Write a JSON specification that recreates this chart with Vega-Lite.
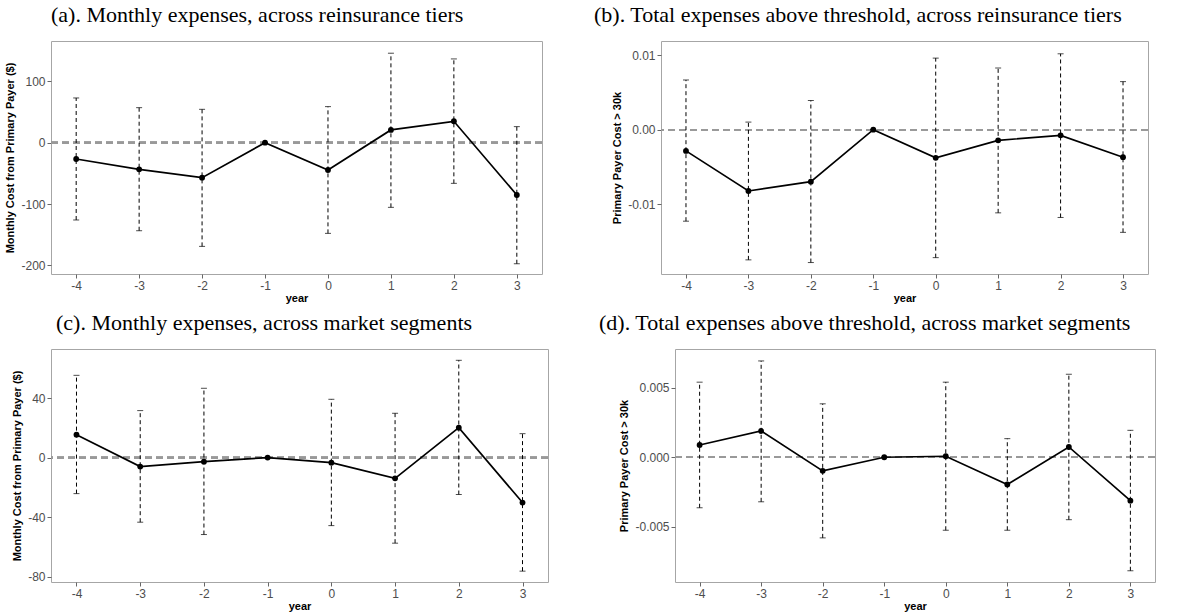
{
  "$schema": "https://vega.github.io/schema/vega-lite/v6.json",
  "background": "white",
  "padding": {"left": 4, "top": 3, "right": 0, "bottom": 0},
  "datasets": {
    "a": [
      {"year": -4, "est": -26.6, "lo": -126, "hi": 72.8},
      {"year": -3, "est": -43.5, "lo": -143.5, "hi": 57},
      {"year": -2, "est": -57, "lo": -169, "hi": 54.3},
      {"year": -1, "est": 0, "lo": 0, "hi": 0},
      {"year": 0, "est": -44.6, "lo": -147.8, "hi": 58.7},
      {"year": 1, "est": 20.7, "lo": -105.4, "hi": 145.7},
      {"year": 2, "est": 34.8, "lo": -66.3, "hi": 136.4},
      {"year": 3, "est": -85.3, "lo": -197.3, "hi": 26.1}
    ],
    "b": [
      {"year": -4, "est": -0.00285, "lo": -0.0123, "hi": 0.00668},
      {"year": -3, "est": -0.00824, "lo": -0.0175, "hi": 0.00102},
      {"year": -2, "est": -0.00699, "lo": -0.01786, "hi": 0.00392},
      {"year": -1, "est": 0, "lo": 0, "hi": 0},
      {"year": 0, "est": -0.00379, "lo": -0.0172, "hi": 0.00962},
      {"year": 1, "est": -0.00143, "lo": -0.01118, "hi": 0.00829},
      {"year": 2, "est": -0.00076, "lo": -0.0118, "hi": 0.0102},
      {"year": 3, "est": -0.0037, "lo": -0.0138, "hi": 0.00646}
    ],
    "c": [
      {"year": -4, "est": 15.4, "lo": -24.2, "hi": 55.3},
      {"year": -3, "est": -6.0, "lo": -43.4, "hi": 31.6},
      {"year": -2, "est": -2.7, "lo": -51.7, "hi": 46.6},
      {"year": -1, "est": 0, "lo": 0, "hi": 0},
      {"year": 0, "est": -3.4, "lo": -45.7, "hi": 39.2},
      {"year": 1, "est": -13.9, "lo": -57.5, "hi": 29.8},
      {"year": 2, "est": 20.1, "lo": -24.8, "hi": 65.4},
      {"year": 3, "est": -30.2, "lo": -76.3, "hi": 16.1}
    ],
    "d": [
      {"year": -4, "est": 0.000885, "lo": -0.00364, "hi": 0.00541},
      {"year": -3, "est": 0.00189, "lo": -0.00321, "hi": 0.00694},
      {"year": -2, "est": -0.00098, "lo": -0.00581, "hi": 0.00385},
      {"year": -1, "est": 0, "lo": 0, "hi": 0},
      {"year": 0, "est": 0.00007, "lo": -0.00526, "hi": 0.00541},
      {"year": 1, "est": -0.00196, "lo": -0.00526, "hi": 0.00134},
      {"year": 2, "est": 0.00074, "lo": -0.0045, "hi": 0.00598},
      {"year": 3, "est": -0.00313, "lo": -0.00818, "hi": 0.00194}
    ]
  },
  "concat": [
    {
      "hconcat": [
        {
          "width": 491, "height": 233,
          "data": {"name": "a"},
          "title": {"text": "(a). Monthly expenses, across reinsurance tiers", "anchor": "start", "frame": "group", "dx": 0, "offset": 14, "baseline": "top", "font": "Liberation Serif", "fontSize": 22, "fontWeight": "normal", "color": "#000"},
          "layer": [
            {"mark": {"type": "rule", "color": "#999999", "strokeDash": [7, 4], "strokeWidth": 1.6},
             "encoding": {"y": {"datum": 0, "type": "quantitative", "scale": {"domain": [-214, 165.6], "nice": false, "zero": false}, "axis": {"values": [-200, -100, 0, 100], "format": "d", "title": "Monthly Cost from Primary Payer ($)", "labelExpr": "replace(datum.label, '−', '-')"}}}},
            {"mark": {"type": "rule", "color": "#000", "strokeDash": [4, 3], "strokeWidth": 1},
             "encoding": {"x": {"field": "year", "type": "quantitative", "scale": {"domain": [-4.4, 3.4], "nice": false, "zero": false}, "axis": {"values": [-4, -3, -2, -1, 0, 1, 2, 3], "format": "d", "title": "year", "labelExpr": "replace(datum.label, '−', '-')"}},
                          "y": {"field": "lo", "type": "quantitative", "title": "Monthly Cost from Primary Payer ($)"}, "y2": {"field": "hi"}}},
            {"mark": {"type": "tick", "orient": "horizontal", "color": "#000", "size": 6, "thickness": 1},
             "encoding": {"x": {"field": "year", "type": "quantitative", "title": "year"}, "y": {"field": "lo", "type": "quantitative", "title": "Monthly Cost from Primary Payer ($)"}}},
            {"mark": {"type": "tick", "orient": "horizontal", "color": "#000", "size": 6, "thickness": 1},
             "encoding": {"x": {"field": "year", "type": "quantitative", "title": "year"}, "y": {"field": "hi", "type": "quantitative", "title": "Monthly Cost from Primary Payer ($)"}}},
            {"mark": {"type": "line", "color": "#000", "strokeWidth": 1.7},
             "encoding": {"x": {"field": "year", "type": "quantitative", "title": "year"}, "y": {"field": "est", "type": "quantitative", "title": "Monthly Cost from Primary Payer ($)"}}},
            {"mark": {"type": "point", "filled": true, "color": "#000", "opacity": 1, "size": 34},
             "encoding": {"x": {"field": "year", "type": "quantitative", "title": "year"}, "y": {"field": "est", "type": "quantitative", "title": "Monthly Cost from Primary Payer ($)"}}}
          ]
        },
        {
          "width": 487, "height": 233,
          "data": {"name": "b"},
          "title": {"text": "(b). Total expenses above threshold, across reinsurance tiers", "anchor": "start", "frame": "group", "dx": -67, "offset": 14, "baseline": "top", "font": "Liberation Serif", "fontSize": 22, "fontWeight": "normal", "color": "#000"},
          "layer": [
            {"mark": {"type": "rule", "color": "#999999", "strokeDash": [7, 4], "strokeWidth": 1.6},
             "encoding": {"y": {"datum": 0, "type": "quantitative", "scale": {"domain": [-0.0194, 0.01192], "nice": false, "zero": false}, "axis": {"values": [-0.01, 0, 0.01], "format": ".2f", "title": "Primary Payer Cost > 30k", "labelExpr": "replace(datum.label, '−', '-')"}}}},
            {"mark": {"type": "rule", "color": "#000", "strokeDash": [4, 3], "strokeWidth": 1},
             "encoding": {"x": {"field": "year", "type": "quantitative", "scale": {"domain": [-4.4, 3.4], "nice": false, "zero": false}, "axis": {"values": [-4, -3, -2, -1, 0, 1, 2, 3], "format": "d", "title": "year", "labelExpr": "replace(datum.label, '−', '-')"}},
                          "y": {"field": "lo", "type": "quantitative", "title": "Primary Payer Cost > 30k"}, "y2": {"field": "hi"}}},
            {"mark": {"type": "tick", "orient": "horizontal", "color": "#000", "size": 6, "thickness": 1},
             "encoding": {"x": {"field": "year", "type": "quantitative", "title": "year"}, "y": {"field": "lo", "type": "quantitative", "title": "Primary Payer Cost > 30k"}}},
            {"mark": {"type": "tick", "orient": "horizontal", "color": "#000", "size": 6, "thickness": 1},
             "encoding": {"x": {"field": "year", "type": "quantitative", "title": "year"}, "y": {"field": "hi", "type": "quantitative", "title": "Primary Payer Cost > 30k"}}},
            {"mark": {"type": "line", "color": "#000", "strokeWidth": 1.7},
             "encoding": {"x": {"field": "year", "type": "quantitative", "title": "year"}, "y": {"field": "est", "type": "quantitative", "title": "Primary Payer Cost > 30k"}}},
            {"mark": {"type": "point", "filled": true, "color": "#000", "opacity": 1, "size": 34},
             "encoding": {"x": {"field": "year", "type": "quantitative", "title": "year"}, "y": {"field": "est", "type": "quantitative", "title": "Primary Payer Cost > 30k"}}}
          ]
        }
      ],
      "spacing": 119,
      "bounds": "flush"
    },
    {
      "hconcat": [
        {
          "width": 497, "height": 233,
          "data": {"name": "c"},
          "title": {"text": "(c). Monthly expenses, across market segments", "anchor": "start", "frame": "group", "dx": 5, "offset": 14, "baseline": "top", "font": "Liberation Serif", "fontSize": 22, "fontWeight": "normal", "color": "#000"},
          "layer": [
            {"mark": {"type": "rule", "color": "#999999", "strokeDash": [7, 4], "strokeWidth": 1.6},
             "encoding": {"y": {"datum": 0, "type": "quantitative", "scale": {"domain": [-83.6, 73], "nice": false, "zero": false}, "axis": {"values": [-80, -40, 0, 40], "format": "d", "title": "Monthly Cost from Primary Payer ($)", "labelExpr": "replace(datum.label, '−', '-')"}}}},
            {"mark": {"type": "rule", "color": "#000", "strokeDash": [4, 3], "strokeWidth": 1},
             "encoding": {"x": {"field": "year", "type": "quantitative", "scale": {"domain": [-4.4, 3.4], "nice": false, "zero": false}, "axis": {"values": [-4, -3, -2, -1, 0, 1, 2, 3], "format": "d", "title": "year", "labelExpr": "replace(datum.label, '−', '-')"}},
                          "y": {"field": "lo", "type": "quantitative", "title": "Monthly Cost from Primary Payer ($)"}, "y2": {"field": "hi"}}},
            {"mark": {"type": "tick", "orient": "horizontal", "color": "#000", "size": 6, "thickness": 1},
             "encoding": {"x": {"field": "year", "type": "quantitative", "title": "year"}, "y": {"field": "lo", "type": "quantitative", "title": "Monthly Cost from Primary Payer ($)"}}},
            {"mark": {"type": "tick", "orient": "horizontal", "color": "#000", "size": 6, "thickness": 1},
             "encoding": {"x": {"field": "year", "type": "quantitative", "title": "year"}, "y": {"field": "hi", "type": "quantitative", "title": "Monthly Cost from Primary Payer ($)"}}},
            {"mark": {"type": "line", "color": "#000", "strokeWidth": 1.7},
             "encoding": {"x": {"field": "year", "type": "quantitative", "title": "year"}, "y": {"field": "est", "type": "quantitative", "title": "Monthly Cost from Primary Payer ($)"}}},
            {"mark": {"type": "point", "filled": true, "color": "#000", "opacity": 1, "size": 34},
             "encoding": {"x": {"field": "year", "type": "quantitative", "title": "year"}, "y": {"field": "est", "type": "quantitative", "title": "Monthly Cost from Primary Payer ($)"}}}
          ]
        },
        {
          "width": 480, "height": 233,
          "data": {"name": "d"},
          "title": {"text": "(d). Total expenses above threshold, across market segments", "anchor": "start", "frame": "group", "dx": -76, "offset": 14, "baseline": "top", "font": "Liberation Serif", "fontSize": 22, "fontWeight": "normal", "color": "#000"},
          "layer": [
            {"mark": {"type": "rule", "color": "#999999", "strokeDash": [7, 4], "strokeWidth": 1.6},
             "encoding": {"y": {"datum": 0, "type": "quantitative", "scale": {"domain": [-0.00899, 0.0078], "nice": false, "zero": false}, "axis": {"values": [-0.005, 0, 0.005], "format": ".3f", "title": "Primary Payer Cost > 30k", "labelExpr": "replace(datum.label, '−', '-')"}}}},
            {"mark": {"type": "rule", "color": "#000", "strokeDash": [4, 3], "strokeWidth": 1},
             "encoding": {"x": {"field": "year", "type": "quantitative", "scale": {"domain": [-4.4, 3.4], "nice": false, "zero": false}, "axis": {"values": [-4, -3, -2, -1, 0, 1, 2, 3], "format": "d", "title": "year", "labelExpr": "replace(datum.label, '−', '-')"}},
                          "y": {"field": "lo", "type": "quantitative", "title": "Primary Payer Cost > 30k"}, "y2": {"field": "hi"}}},
            {"mark": {"type": "tick", "orient": "horizontal", "color": "#000", "size": 6, "thickness": 1},
             "encoding": {"x": {"field": "year", "type": "quantitative", "title": "year"}, "y": {"field": "lo", "type": "quantitative", "title": "Primary Payer Cost > 30k"}}},
            {"mark": {"type": "tick", "orient": "horizontal", "color": "#000", "size": 6, "thickness": 1},
             "encoding": {"x": {"field": "year", "type": "quantitative", "title": "year"}, "y": {"field": "hi", "type": "quantitative", "title": "Primary Payer Cost > 30k"}}},
            {"mark": {"type": "line", "color": "#000", "strokeWidth": 1.7},
             "encoding": {"x": {"field": "year", "type": "quantitative", "title": "year"}, "y": {"field": "est", "type": "quantitative", "title": "Primary Payer Cost > 30k"}}},
            {"mark": {"type": "point", "filled": true, "color": "#000", "opacity": 1, "size": 34},
             "encoding": {"x": {"field": "year", "type": "quantitative", "title": "year"}, "y": {"field": "est", "type": "quantitative", "title": "Primary Payer Cost > 30k"}}}
          ]
        }
      ],
      "spacing": 127,
      "bounds": "flush"
    }
  ],
  "columns": 1,
  "align": "none",
  "spacing": 7,
  "config": {
    "view": {"stroke": "#a6a6a6", "strokeWidth": 1},
    "axis": {"labelFont": "Liberation Sans", "labelFontSize": 12, "labelColor": "#4d4d4d", "titleFont": "Liberation Sans", "titleFontSize": 11, "titleFontWeight": "bold", "titleColor": "#000", "domain": false, "tickColor": "#666666", "tickSize": 4, "labelPadding": 2},
    "axisX": {"grid": false, "titlePadding": 1},
    "axisY": {"gridColor": "#ebebeb", "gridWidth": 1, "titlePadding": 5}
  }
}
